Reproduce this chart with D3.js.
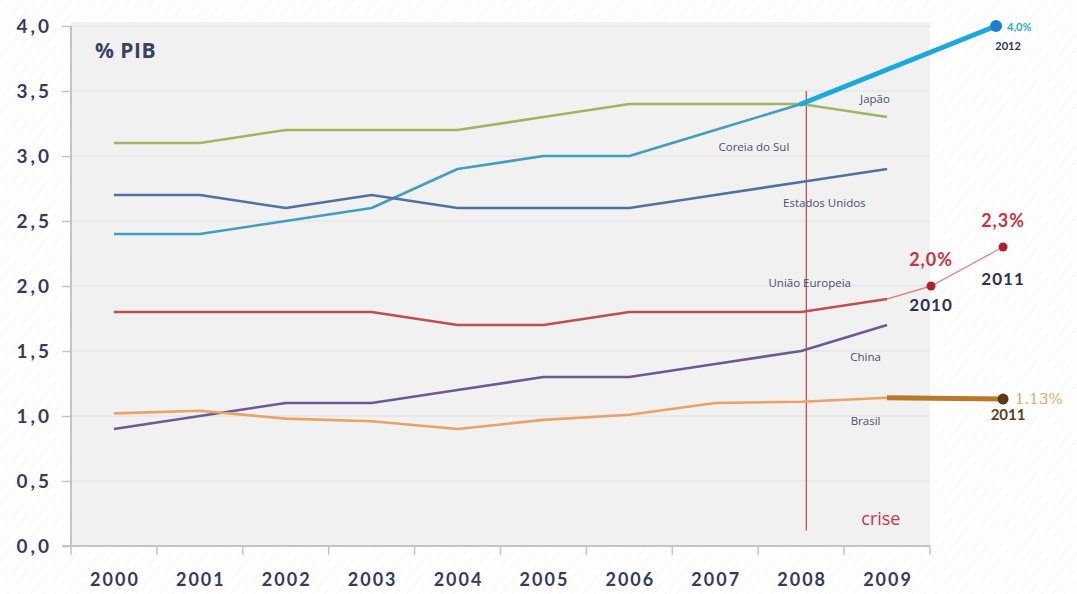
<!DOCTYPE html>
<html>
<head>
<meta charset="utf-8">
<script src="https://cdn.jsdelivr.net/npm/d3@7"></script>
<style>
  html, body { margin: 0; padding: 0; background: #fff; }
  svg { display: block; }
</style>
</head>
<body>
<svg id="chart" width="1077" height="594"></svg>
<script>
// anos e séries (% do PIB)
const years = [2000, 2001, 2002, 2003, 2004, 2005, 2006, 2007, 2008, 2009];
const japao   = [3.1, 3.1, 3.2, 3.2, 3.2, 3.3, 3.4, 3.4, 3.4, 3.3];
const coreia  = [2.4, 2.4, 2.5, 2.6, 2.9, 3.0, 3.0, 3.2, 3.4, null];
const eua     = [2.7, 2.7, 2.6, 2.7, 2.6, 2.6, 2.6, 2.7, 2.8, 2.9];
const ue      = [1.8, 1.8, 1.8, 1.8, 1.7, 1.7, 1.8, 1.8, 1.8, 1.9];
const china   = [0.9, 1.0, 1.1, 1.1, 1.2, 1.3, 1.3, 1.4, 1.5, 1.7];
const brasil  = [1.02, 1.04, 0.98, 0.96, 0.9, 0.97, 1.01, 1.1, 1.11, 1.14];
const yTicks  = [0, 0.5, 1, 1.5, 2, 2.5, 3, 3.5, 4];

// metas / projeções
const coreiaMeta = [{ year: 2008, v: 3.4 }, { year: 2012, v: 4.0 }];
const ueMeta     = [{ year: 2009, v: 1.9 }, { year: 2010, v: 2.0 }, { year: 2011, v: 2.3 }];
const brasilMeta = [{ year: 2009, v: 1.14 }, { year: 2011, v: 1.13 }];
const crise = 2008.06;

// rótulo: [ano, valor] onde o nome fica
const series = [
  { name: "Japão",          values: japao,  color: "#9fb65e", lab: [2008.86, 3.41] },
  { name: "Coreia do Sul",  values: coreia, color: "#3f9fbf", lab: [2007.45, 3.04] },
  { name: "Estados Unidos", values: eua,    color: "#4e72a3", lab: [2008.27, 2.61] },
  { name: "União Europeia", values: ue,     color: "#c0504d", lab: [2008.1, 1.99] },
  { name: "China",          values: china,  color: "#6c5a98", lab: [2008.75, 1.42] },
  { name: "Brasil",         values: brasil, color: "#eba262", lab: [2008.75, 0.93] }
];

const W = 1077, H = 594;
const m = { top: 22, right: 147, bottom: 48, left: 71 };
const iW = W - m.left - m.right;
const iH = H - m.top - m.bottom;

const svg = d3.select("#chart");
const ff = "Lato, 'Open Sans', sans-serif";

// fundo com hachura leve
const defs = svg.append("defs");
const pat = defs.append("pattern").attr("id", "hatch").attr("patternUnits", "userSpaceOnUse")
  .attr("width", 9).attr("height", 9).attr("patternTransform", "rotate(40)");
pat.append("line").attr("x1", 0).attr("y1", 0).attr("x2", 0).attr("y2", 9)
  .attr("stroke", "#f1f1f1").attr("stroke-width", 1.2);
svg.append("rect").attr("width", W).attr("height", H).attr("fill", "url(#hatch)");

const x = d3.scaleLinear().domain([1999.5, 2009.5]).range([0, iW]);
const y = d3.scaleLinear().domain([0, 4]).range([iH, 4]);
// posições das projeções à direita do gráfico
const xp = d3.scaleLinear().domain([2008, 2009, 2010, 2011, 2012])
  .range([x(2008), x(2009), x(2009) + 44, x(2009) + 116, x(2009) + 109]);

const g = svg.append("g").attr("transform", `translate(${m.left},${m.top})`);

g.append("rect").attr("x", 0).attr("y", 0).attr("width", iW).attr("height", iH)
  .attr("fill", "#f1f1f1");

// grade
g.append("g").selectAll("line").data(yTicks.slice(1)).join("line")
  .attr("x1", 0).attr("x2", iW).attr("y1", d => y(d)).attr("y2", d => y(d))
  .attr("stroke", "#e1e1e1").attr("stroke-width", 1.2);

// eixos
g.append("g")
  .call(d3.axisLeft(y).tickValues(yTicks).tickSize(9).tickFormat(d => d3.format(".1f")(d).replace(".", ",")))
  .call(ax => {
    ax.select(".domain").attr("stroke", "#c4c4c4").attr("stroke-width", 2).attr("d", `M0,${y(4)}V${iH}`);
    ax.selectAll(".tick line").attr("stroke", "#c4c4c4").attr("stroke-width", 1.5);
    ax.selectAll(".tick text").attr("x", -19).style("fill", "#363b5a").style("font-size", "19px")
      .style("font-weight", "bold").style("font-family", ff).style("letter-spacing", "3px");
  });

const bounds = d3.range(1999.5, 2010.5, 1);
g.append("g")
  .attr("transform", `translate(0,${iH})`)
  .call(ax => {
    ax.append("line").attr("x1", -9).attr("x2", iW).attr("stroke", "#c4c4c4").attr("stroke-width", 2);
    ax.selectAll(".tk").data(bounds).join("line").attr("class", "tk")
      .attr("x1", d => x(d)).attr("x2", d => x(d)).attr("y1", 0).attr("y2", 9)
      .attr("stroke", "#c4c4c4").attr("stroke-width", 1.5);
    ax.selectAll(".yl").data(years).join("text").attr("class", "yl")
      .attr("x", d => x(d) + 1).attr("y", 40).attr("text-anchor", "middle")
      .style("fill", "#363b5a").style("font-size", "18px").style("font-weight", "bold")
      .style("font-family", ff).style("letter-spacing", "2px")
      .text(d => d);
  });

// linha da crise
g.append("line").attr("x1", x(crise)).attr("x2", x(crise)).attr("y1", y(3.5)).attr("y2", y(0.12))
  .attr("stroke", "#c0504d").attr("stroke-width", 1.3);
g.append("text").attr("x", x(2008.7)).attr("y", y(0.16)).style("fill", "#c8354b")
  .style("font-size", "18px").style("font-family", "'Open Sans', sans-serif").text("crise");

// linhas
const line = d3.line().defined(d => d.v != null).x(d => x(d.year)).y(d => y(d.v));
series.forEach(s => {
  const pts = years.map((yr, i) => ({ year: yr, v: s.values[i] }));
  g.append("path").datum(pts).attr("d", line).attr("fill", "none")
    .attr("stroke", s.color).attr("stroke-width", 2.6).attr("stroke-linejoin", "round");
});

// projeções
const lp = d3.line().x(d => xp(d.year)).y(d => y(d.v));
g.append("path").datum(ueMeta).attr("d", lp).attr("fill", "none")
  .attr("stroke", "#e08a86").attr("stroke-width", 1.4);
g.selectAll(".ued").data(ueMeta.slice(1)).join("circle").attr("class", "ued")
  .attr("cx", d => xp(d.year)).attr("cy", d => y(d.v)).attr("r", 4.5).attr("fill", "#b0202a");

g.append("path").datum(coreiaMeta).attr("d", lp).attr("fill", "none")
  .attr("stroke", "#19a9dc").attr("stroke-width", 5).attr("stroke-linecap", "round");
g.append("circle").attr("cx", xp(2012)).attr("cy", y(4.0)).attr("r", 6).attr("fill", "#1a7fd0");

g.append("path").datum(brasilMeta).attr("d", lp).attr("fill", "none")
  .attr("stroke", "#b9782a").attr("stroke-width", 5);
g.append("circle").attr("cx", xp(2011)).attr("cy", y(1.13)).attr("r", 5.5).attr("fill", "#5b3a12");

// rótulos das séries
series.forEach(s => {
  g.append("text").attr("x", x(s.lab[0])).attr("y", y(s.lab[1]))
    .attr("text-anchor", "middle")
    .style("fill", "#4a4f6e").style("font-size", "11.5px").style("font-family", "'Open Sans', sans-serif")
    .text(s.name);
});

// rótulos das projeções
const bold = (sel, col, size) => sel.style("fill", col).style("font-size", size).style("font-weight", "bold").style("font-family", ff);
bold(g.append("text").attr("x", xp(2012) + 11).attr("y", y(4.0) + 5).text("4,0%"), "#2aa6d6", "11px");
bold(g.append("text").attr("x", xp(2012) + 12).attr("y", y(4.0) + 24).attr("text-anchor", "middle").text("2012"), "#2c3350", "11px");
bold(g.append("text").attr("x", xp(2010)).attr("y", y(2.0) - 20).attr("text-anchor", "middle").text("2,0%"), "#c8333f", "18px").style("letter-spacing", "1px");
bold(g.append("text").attr("x", xp(2010)).attr("y", y(2.0) + 25).attr("text-anchor", "middle").text("2010"), "#2c3350", "17px").style("letter-spacing", "1px");
bold(g.append("text").attr("x", xp(2011)).attr("y", y(2.3) - 20).attr("text-anchor", "middle").text("2,3%"), "#c8333f", "18px").style("letter-spacing", "1px");
bold(g.append("text").attr("x", xp(2011)).attr("y", y(2.3) + 38).attr("text-anchor", "middle").text("2011"), "#2c3350", "17px").style("letter-spacing", "1px");
bold(g.append("text").attr("x", xp(2011) + 12).attr("y", y(1.13) + 5).text("1.13%"), "#d9ab6c", "15px").style("font-weight", "normal").style("font-family", "'DejaVu Serif', serif");
bold(g.append("text").attr("x", xp(2011) + 5).attr("y", y(1.13) + 21).attr("text-anchor", "middle").text("2011"), "#5b4220", "15px");

// título
g.append("text").attr("x", 24).attr("y", 36)
  .style("fill", "#3b4263").style("font-size", "21px").style("font-weight", "bold")
  .style("font-family", "'Open Sans', sans-serif").style("letter-spacing", "0.5px").text("% PIB");
</script>
</body>
</html>
